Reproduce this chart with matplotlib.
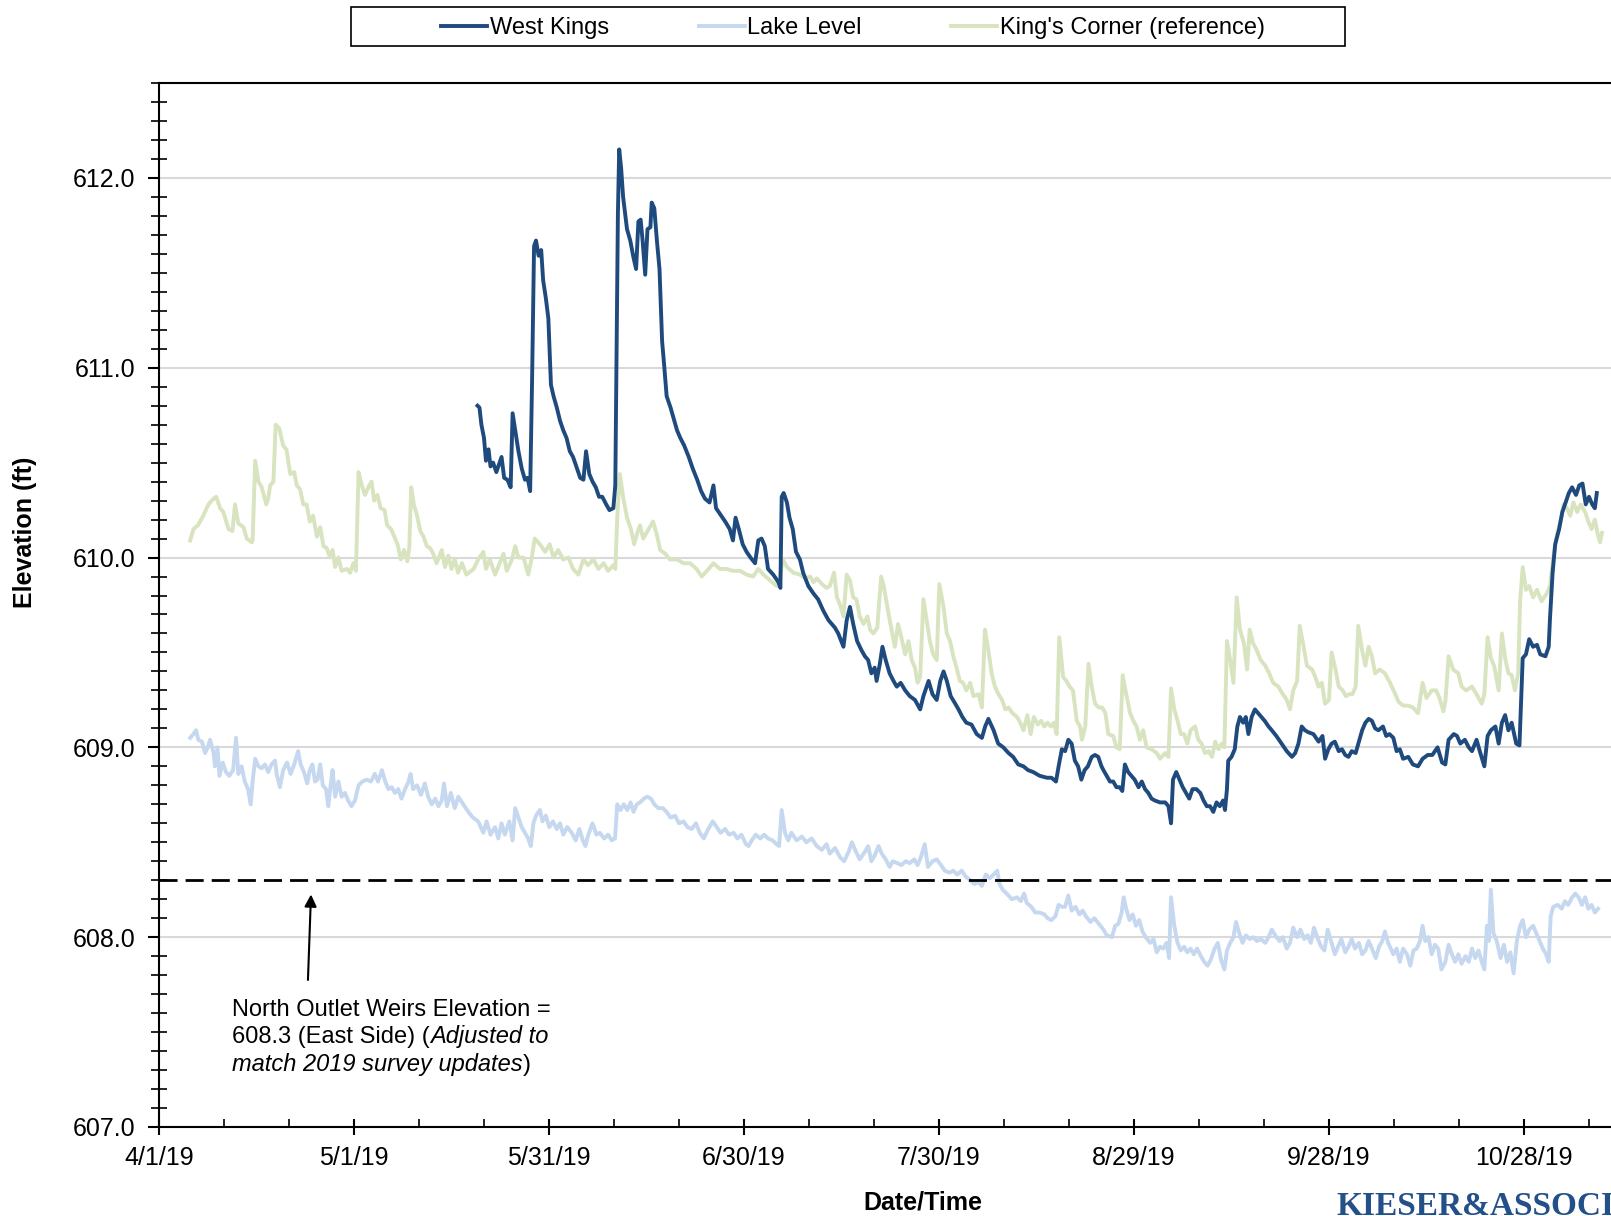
import numpy as np
import pandas as pd
import matplotlib
matplotlib.use("Agg")
from matplotlib import pyplot as plt
from matplotlib.lines import Line2D
from matplotlib.patches import Rectangle

plt.rcParams['font.family'] = ['Liberation Sans', 'DejaVu Sans']

start = pd.Timestamp('2019-04-01')

# King's Corner (reference) gauge: (days since 4/1/19, elevation ft)
kc_pts = [
    (4.8, 610.09), (5.3, 610.15), (6.0, 610.17), (6.8, 610.22), (7.6, 610.28), (8.4, 610.31), (8.8, 610.32),
    (9.4, 610.26), (9.9, 610.24), (10.7, 610.15), (11.3, 610.14), (11.7, 610.28), (12.2, 610.18), (13.0, 610.16),
    (13.5, 610.10), (14.3, 610.08), (14.4, 610.09), (14.8, 610.51), (15.3, 610.40), (15.8, 610.37), (16.5, 610.28),
    (16.8, 610.31), (17.1, 610.38), (17.6, 610.40), (17.95, 610.70), (18.5, 610.68), (19.1, 610.59), (19.6, 610.57),
    (20.2, 610.44), (20.8, 610.45), (21.2, 610.38), (21.7, 610.36), (22.2, 610.28), (22.7, 610.28), (23.2, 610.19),
    (23.7, 610.22), (24.3, 610.11), (24.8, 610.16), (25.3, 610.06), (25.8, 610.05), (26.3, 610.00), (26.7, 610.04),
    (27.1, 609.95), (27.6, 610.00), (28.1, 609.93), (28.9, 609.94), (29.4, 609.92), (29.9, 609.97), (30.3, 609.93),
    (30.7, 610.45), (31.2, 610.38), (31.7, 610.33), (32.2, 610.37), (32.7, 610.40), (33.1, 610.30), (33.6, 610.33),
    (34.1, 610.26), (34.7, 610.25), (35.1, 610.17), (35.7, 610.15), (36.2, 610.11), (36.7, 610.07), (37.2, 609.99),
    (37.7, 610.04), (38.2, 609.98), (38.5, 610.05), (38.8, 610.37), (39.2, 610.28), (39.7, 610.22), (40.2, 610.14),
    (40.7, 610.11), (41.2, 610.06), (41.7, 610.05), (42.2, 610.02), (42.7, 609.97), (43.5, 610.04), (44.0, 609.95),
    (44.5, 610.01), (45.0, 609.94), (45.5, 609.99), (46.0, 609.92), (46.6, 609.97), (47.3, 609.91), (48.4, 609.94),
    (49.1, 609.99), (49.9, 610.03), (50.3, 609.94), (50.9, 609.99), (51.7, 609.91), (52.4, 609.97), (53.0, 610.02),
    (53.5, 609.93), (54.3, 609.99), (54.8, 610.06), (55.3, 610.00), (56.1, 610.00), (56.8, 609.91), (57.3, 609.99),
    (57.8, 610.10), (58.6, 610.07), (59.4, 610.03), (60.1, 610.07), (60.7, 610.00), (61.4, 610.04), (62.2, 609.99),
    (63.0, 610.00), (63.7, 609.94), (64.5, 609.91), (65.3, 609.99), (66.0, 609.96), (66.8, 609.99), (67.6, 609.94),
    (68.4, 609.97), (69.1, 609.93), (69.9, 609.96), (70.2, 609.94), (70.5, 610.21), (70.9, 610.44), (71.4, 610.32),
    (72.0, 610.21), (72.6, 610.15), (73.1, 610.07), (73.5, 610.12), (74.0, 610.17), (74.5, 610.10), (75.0, 610.13),
    (75.5, 610.16), (76.0, 610.19), (76.6, 610.12), (77.1, 610.04), (77.9, 610.02), (78.6, 609.99), (79.7, 609.99),
    (80.7, 609.97), (81.7, 609.97), (82.7, 609.94), (83.5, 609.90), (84.3, 609.93), (85.3, 609.97), (86.3, 609.94),
    (87.3, 609.94), (88.3, 609.93), (89.4, 609.93), (90.4, 609.91), (91.4, 609.90), (92.2, 609.94), (93.0, 609.91),
    (94.0, 609.88), (95.0, 609.85), (95.5, 609.90), (96.0, 609.99), (96.6, 609.95), (97.6, 609.92), (98.6, 609.91),
    (99.4, 609.89), (100.2, 609.90), (100.7, 609.87), (101.2, 609.89), (102.0, 609.86), (102.7, 609.84),
    (103.2, 609.85), (103.85, 609.92), (104.3, 609.79), (104.8, 609.75), (105.3, 609.69), (105.8, 609.91),
    (106.3, 609.88), (106.8, 609.79), (107.3, 609.78), (107.8, 609.69), (108.4, 609.65), (109.0, 609.69),
    (109.4, 609.62), (109.9, 609.60), (110.5, 609.63), (111.1, 609.90), (111.5, 609.85), (112.2, 609.71),
    (112.7, 609.62), (113.2, 609.53), (113.7, 609.65), (114.2, 609.58), (114.8, 609.49), (115.3, 609.56),
    (115.8, 609.46), (116.3, 609.42), (116.7, 609.34), (117.1, 609.37), (117.6, 609.78), (118.1, 609.67),
    (118.6, 609.56), (119.1, 609.49), (119.65, 609.46), (120.05, 609.86), (120.7, 609.74), (121.2, 609.60),
    (121.7, 609.56), (122.2, 609.48), (122.7, 609.42), (123.2, 609.35), (123.7, 609.34), (124.2, 609.30),
    (124.8, 609.34), (125.3, 609.27), (126.1, 609.28), (126.6, 609.21), (127.07, 609.62), (127.6, 609.51),
    (128.1, 609.39), (128.6, 609.32), (129.15, 609.28), (129.7, 609.25), (130.2, 609.20), (130.7, 609.21),
    (131.3, 609.18), (132.0, 609.16), (132.5, 609.13), (133.0, 609.09), (133.6, 609.17), (134.1, 609.07),
    (134.6, 609.16), (135.2, 609.12), (135.7, 609.14), (136.2, 609.11), (136.7, 609.13), (137.2, 609.11),
    (137.7, 609.13), (138.1, 609.07), (138.5, 609.58), (139.1, 609.37), (139.6, 609.35), (140.1, 609.32),
    (140.6, 609.30), (141.2, 609.14), (141.7, 609.11), (142.0, 609.04), (142.5, 609.11), (143.0, 609.44),
    (143.5, 609.32), (144.0, 609.23), (144.6, 609.21), (145.1, 609.21), (145.6, 609.18), (146.05, 609.07),
    (146.8, 609.06), (147.3, 609.00), (147.8, 608.99), (148.26, 609.38), (148.8, 609.28), (149.4, 609.18),
    (149.9, 609.14), (150.4, 609.11), (150.9, 609.04), (151.4, 609.09), (151.95, 609.00), (152.7, 608.99),
    (153.5, 608.97), (154.0, 608.94), (154.8, 608.97), (155.3, 608.95), (155.7, 609.31), (156.2, 609.20),
    (156.7, 609.14), (157.2, 609.07), (157.7, 609.07), (158.2, 609.02), (158.7, 609.09), (159.4, 609.11),
    (159.9, 609.04), (160.4, 609.02), (160.9, 608.97), (161.5, 608.98), (162.0, 608.95), (162.5, 609.03),
    (163.0, 608.99), (163.5, 609.02), (163.9, 609.00), (164.3, 609.56), (164.8, 609.46), (165.3, 609.34),
    (165.8, 609.79), (166.3, 609.62), (166.9, 609.55), (167.4, 609.41), (167.8, 609.62), (168.3, 609.55),
    (168.9, 609.51), (169.5, 609.46), (170.2, 609.43), (170.8, 609.39), (171.4, 609.34), (172.2, 609.32),
    (172.9, 609.28), (173.5, 609.25), (174.0, 609.20), (174.5, 609.30), (175.1, 609.35), (175.5, 609.64),
    (176.1, 609.53), (176.6, 609.43), (177.4, 609.41), (177.9, 609.37), (178.4, 609.32), (178.9, 609.34),
    (179.4, 609.23), (180.0, 609.25), (180.4, 609.50), (181.0, 609.41), (181.5, 609.32), (182.1, 609.30),
    (182.6, 609.27), (183.1, 609.28), (183.6, 609.28), (184.1, 609.32), (184.5, 609.64), (185.1, 609.51),
    (185.6, 609.43), (186.1, 609.53), (186.6, 609.48), (187.1, 609.39), (187.8, 609.41), (188.6, 609.39),
    (189.4, 609.34), (190.2, 609.28), (190.7, 609.24), (191.4, 609.22), (192.2, 609.22), (192.9, 609.21),
    (193.7, 609.18), (194.4, 609.34), (195.0, 609.26), (195.8, 609.30), (196.5, 609.30), (197.0, 609.26),
    (197.6, 609.19), (197.9, 609.24), (198.4, 609.48), (199.1, 609.41), (199.9, 609.39), (200.4, 609.32),
    (201.1, 609.30), (202.0, 609.32), (202.7, 609.28), (203.5, 609.23), (203.9, 609.28), (204.4, 609.58),
    (204.9, 609.47), (205.4, 609.43), (206.1, 609.30), (206.6, 609.60), (207.1, 609.47), (207.6, 609.39),
    (208.1, 609.38), (208.6, 609.30), (209.1, 609.39), (209.4, 609.77), (209.8, 609.95), (210.3, 609.83),
    (210.8, 609.85), (211.4, 609.79), (212.0, 609.83), (212.7, 609.77), (213.5, 609.81), (214.0, 609.85),
    (214.5, 610.00), (215.0, 610.11), (215.6, 610.19), (216.1, 610.28), (216.6, 610.26), (217.1, 610.22),
    (217.6, 610.29), (218.2, 610.24), (218.7, 610.28), (219.4, 610.24), (219.9, 610.19), (220.4, 610.15),
    (220.9, 610.20), (221.3, 610.13), (221.7, 610.08), (222.0, 610.13),
]

# West Kings gauge
wk_pts = [
    (49.0, 610.80), (49.3, 610.79), (49.6, 610.70), (50.0, 610.63), (50.3, 610.51), (50.7, 610.57), (51.0, 610.48),
    (51.4, 610.50), (51.9, 610.45), (52.4, 610.50), (52.7, 610.53), (53.1, 610.42), (53.6, 610.41), (54.1, 610.37),
    (54.4, 610.76), (54.8, 610.67), (55.3, 610.56), (55.8, 610.47), (56.3, 610.41), (56.7, 610.42), (57.1, 610.35),
    (57.4, 610.94), (57.7, 611.64), (58.0, 611.67), (58.4, 611.59), (58.8, 611.62), (59.1, 611.46), (59.5, 611.37),
    (59.9, 611.26), (60.3, 610.91), (60.7, 610.85), (61.2, 610.79), (61.7, 610.72), (62.2, 610.67), (62.7, 610.63),
    (63.2, 610.56), (63.7, 610.53), (64.3, 610.47), (64.8, 610.42), (65.3, 610.41), (65.7, 610.56), (66.2, 610.44),
    (66.7, 610.40), (67.2, 610.37), (67.7, 610.32), (68.2, 610.32), (68.8, 610.28), (69.3, 610.25), (69.9, 610.26),
    (70.2, 610.38), (70.4, 611.08), (70.6, 611.81), (70.8, 612.15), (71.1, 612.05), (71.4, 611.90), (72.0, 611.73),
    (72.5, 611.67), (73.0, 611.58), (73.4, 611.52), (73.75, 611.77), (74.1, 611.78), (74.4, 611.67), (74.8, 611.49),
    (75.15, 611.73), (75.6, 611.74), (75.8, 611.87), (76.2, 611.84), (76.6, 611.67), (77.0, 611.52), (77.4, 611.14),
    (77.7, 611.02), (78.1, 610.85), (78.7, 610.79), (79.2, 610.73), (79.7, 610.67), (80.2, 610.63), (80.8, 610.59),
    (81.5, 610.53), (82.1, 610.47), (82.8, 610.41), (83.4, 610.35), (84.0, 610.31), (84.7, 610.29), (85.3, 610.38),
    (85.7, 610.26), (86.3, 610.23), (87.1, 610.19), (87.8, 610.15), (88.3, 610.09), (88.7, 610.21), (89.2, 610.15),
    (89.8, 610.07), (90.4, 610.03), (91.0, 610.00), (91.7, 609.97), (92.2, 610.09), (92.7, 610.10), (93.2, 610.06),
    (93.7, 609.94), (94.5, 609.91), (95.3, 609.87), (95.6, 609.84), (95.8, 610.32), (96.1, 610.34), (96.6, 610.29),
    (97.0, 610.21), (97.5, 610.15), (98.0, 610.03), (98.6, 609.99), (99.1, 609.92), (99.9, 609.85), (100.7, 609.81),
    (101.4, 609.78), (102.2, 609.72), (103.0, 609.67), (103.5, 609.65), (104.0, 609.63), (104.5, 609.60),
    (105.3, 609.53), (105.8, 609.67), (106.3, 609.74), (106.8, 609.65), (107.4, 609.56), (108.1, 609.51),
    (108.6, 609.48), (109.1, 609.46), (109.6, 609.39), (110.1, 609.42), (110.4, 609.35), (110.9, 609.44),
    (111.3, 609.53), (111.8, 609.46), (112.4, 609.39), (113.0, 609.35), (113.5, 609.32), (114.1, 609.34),
    (114.8, 609.30), (115.5, 609.27), (116.3, 609.25), (117.1, 609.20), (117.6, 609.27), (118.4, 609.35),
    (119.0, 609.28), (119.65, 609.25), (120.2, 609.35), (120.7, 609.40), (121.2, 609.35), (121.8, 609.27),
    (122.5, 609.23), (123.0, 609.20), (123.6, 609.16), (124.2, 609.13), (125.0, 609.12), (125.8, 609.07),
    (126.6, 609.05), (127.1, 609.11), (127.6, 609.15), (128.4, 609.09), (129.1, 609.02), (129.9, 609.00),
    (130.7, 608.97), (131.4, 608.95), (132.2, 608.91), (133.0, 608.90), (133.7, 608.88), (134.5, 608.87),
    (135.5, 608.85), (136.6, 608.84), (137.3, 608.84), (138.0, 608.82), (138.4, 608.90), (138.9, 608.99),
    (139.4, 608.98), (139.9, 609.04), (140.4, 609.02), (140.9, 608.93), (141.4, 608.90), (141.9, 608.83),
    (142.4, 608.88), (142.9, 608.90), (143.5, 608.95), (144.0, 608.96), (144.5, 608.95), (145.0, 608.90),
    (145.3, 608.88), (145.8, 608.85), (146.3, 608.82), (146.8, 608.82), (147.3, 608.79), (147.8, 608.79),
    (148.2, 608.77), (148.6, 608.91), (149.1, 608.87), (149.6, 608.85), (150.1, 608.83), (150.7, 608.79),
    (151.2, 608.82), (151.7, 608.78), (152.2, 608.76), (152.7, 608.73), (153.2, 608.72), (154.0, 608.71),
    (154.8, 608.71), (155.3, 608.69), (155.7, 608.60), (156.0, 608.83), (156.5, 608.87), (157.0, 608.83),
    (157.5, 608.79), (158.0, 608.76), (158.5, 608.73), (159.0, 608.78), (159.6, 608.78), (160.2, 608.76),
    (160.7, 608.72), (161.2, 608.69), (161.7, 608.69), (162.2, 608.66), (162.7, 608.71), (163.2, 608.69),
    (163.7, 608.72), (164.0, 608.67), (164.3, 608.78), (164.5, 608.93), (165.0, 608.95), (165.5, 608.99),
    (165.9, 609.11), (166.3, 609.16), (166.8, 609.13), (167.2, 609.16), (167.6, 609.07), (168.1, 609.16),
    (168.6, 609.20), (169.1, 609.18), (169.6, 609.16), (170.1, 609.14), (170.7, 609.11), (171.2, 609.09),
    (171.9, 609.06), (172.7, 609.02), (173.5, 608.98), (174.3, 608.95), (174.8, 608.97), (175.3, 609.02),
    (175.8, 609.11), (176.3, 609.09), (176.8, 609.08), (177.6, 609.07), (178.4, 609.03), (179.0, 609.06),
    (179.4, 608.94), (179.9, 608.99), (180.4, 609.02), (180.9, 609.03), (181.5, 608.98), (182.0, 608.99),
    (182.5, 608.96), (183.0, 608.95), (183.5, 608.98), (184.1, 608.97), (184.6, 609.03), (185.1, 609.09),
    (185.6, 609.13), (186.1, 609.15), (186.6, 609.14), (187.1, 609.10), (187.6, 609.09), (188.3, 609.11),
    (188.8, 609.06), (189.3, 609.07), (189.9, 609.05), (190.4, 608.98), (190.9, 608.99), (191.4, 608.94),
    (192.2, 608.95), (192.9, 608.91), (193.7, 608.90), (194.4, 608.94), (195.2, 608.96), (195.9, 608.96),
    (196.7, 609.00), (197.4, 608.92), (197.9, 608.91), (198.4, 609.04), (199.2, 609.07), (199.7, 609.06),
    (200.2, 609.02), (200.9, 609.04), (201.5, 609.00), (202.0, 608.98), (202.7, 609.04), (203.2, 608.98),
    (203.9, 608.90), (204.4, 609.06), (204.9, 609.09), (205.6, 609.11), (206.1, 609.02), (206.6, 609.13),
    (207.1, 609.17), (207.6, 609.09), (208.1, 609.13), (208.8, 609.02), (209.3, 609.01), (209.8, 609.47),
    (210.3, 609.49), (210.8, 609.57), (211.4, 609.53), (212.0, 609.54), (212.5, 609.49), (213.3, 609.48),
    (213.8, 609.53), (214.0, 609.68), (214.4, 609.92), (214.8, 610.07), (215.4, 610.15), (215.9, 610.24),
    (216.4, 610.29), (216.9, 610.34), (217.4, 610.37), (218.0, 610.33), (218.5, 610.38), (219.0, 610.39),
    (219.5, 610.28), (220.0, 610.32), (220.5, 610.28), (220.9, 610.26), (221.2, 610.34),
]

# Lake level
lake_pts = [
    (4.8, 609.05), (5.3, 609.07), (5.7, 609.09), (6.05, 609.04), (6.6, 609.03), (7.1, 608.97), (7.6, 609.01),
    (7.85, 609.04), (8.4, 608.97), (8.6, 608.90), (9.0, 609.00), (9.3, 608.85), (9.8, 608.92), (10.3, 608.87),
    (10.8, 608.85), (11.4, 608.88), (11.85, 609.05), (12.2, 608.86), (12.7, 608.90), (13.2, 608.82), (13.7, 608.78),
    (14.1, 608.70), (14.4, 608.82), (14.8, 608.94), (15.3, 608.90), (15.8, 608.89), (16.3, 608.91), (16.8, 608.87),
    (17.3, 608.91), (17.85, 608.93), (18.1, 608.86), (18.6, 608.79), (19.1, 608.88), (19.7, 608.92), (20.25, 608.86),
    (20.8, 608.91), (21.4, 608.98), (21.8, 608.91), (22.3, 608.87), (22.8, 608.81), (23.2, 608.88), (23.6, 608.91),
    (24.0, 608.82), (24.4, 608.83), (24.8, 608.91), (25.2, 608.80), (25.7, 608.78), (26.05, 608.69), (26.4, 608.80),
    (26.7, 608.88), (27.1, 608.74), (27.6, 608.82), (28.1, 608.74), (28.6, 608.76), (29.1, 608.72), (29.6, 608.69),
    (30.15, 608.72), (30.7, 608.80), (31.3, 608.82), (31.95, 608.83), (32.6, 608.82), (33.2, 608.86), (33.7, 608.82),
    (34.3, 608.88), (34.8, 608.82), (35.3, 608.78), (35.8, 608.79), (36.3, 608.76), (36.8, 608.78), (37.3, 608.73),
    (37.85, 608.78), (38.4, 608.82), (38.7, 608.86), (39.1, 608.78), (39.7, 608.80), (40.3, 608.75), (40.9, 608.81),
    (41.4, 608.74), (41.95, 608.70), (42.5, 608.73), (43.0, 608.69), (43.5, 608.72), (43.85, 608.81), (44.3, 608.69),
    (44.9, 608.76), (45.5, 608.68), (46.05, 608.74), (46.8, 608.70), (47.6, 608.66), (48.3, 608.63), (49.1, 608.61),
    (49.9, 608.55), (50.4, 608.61), (51.0, 608.54), (51.7, 608.58), (52.2, 608.52), (52.7, 608.60), (53.2, 608.54),
    (53.9, 608.61), (54.4, 608.51), (54.8, 608.68), (55.3, 608.63), (55.8, 608.58), (56.3, 608.55), (56.8, 608.52),
    (57.2, 608.48), (57.6, 608.60), (58.0, 608.64), (58.6, 608.67), (59.0, 608.61), (59.5, 608.64), (60.05, 608.58),
    (60.6, 608.61), (61.2, 608.57), (61.7, 608.60), (62.2, 608.54), (62.8, 608.58), (63.5, 608.55), (64.1, 608.51),
    (64.66, 608.57), (65.2, 608.51), (65.6, 608.48), (66.05, 608.54), (66.7, 608.60), (67.3, 608.54), (67.8, 608.55),
    (68.5, 608.52), (69.1, 608.54), (69.65, 608.51), (70.15, 608.52), (70.5, 608.70), (71.0, 608.67), (71.5, 608.70),
    (72.05, 608.67), (72.56, 608.71), (73.0, 608.66), (73.5, 608.70), (74.0, 608.71), (74.6, 608.73), (75.1, 608.74),
    (75.7, 608.73), (76.2, 608.70), (76.8, 608.68), (77.5, 608.68), (78.1, 608.66), (78.7, 608.63), (79.4, 608.64),
    (80.0, 608.60), (80.7, 608.61), (81.3, 608.58), (81.95, 608.57), (82.6, 608.60), (83.2, 608.55), (83.8, 608.52),
    (84.5, 608.57), (85.2, 608.61), (85.8, 608.58), (86.4, 608.55), (87.1, 608.57), (87.7, 608.54), (88.4, 608.55),
    (89.0, 608.52), (89.6, 608.54), (90.3, 608.49), (90.7, 608.48), (91.2, 608.51), (91.8, 608.54), (92.5, 608.52),
    (93.1, 608.54), (93.7, 608.52), (94.4, 608.51), (95.0, 608.49), (95.4, 608.48), (95.8, 608.67), (96.3, 608.55),
    (96.8, 608.51), (97.3, 608.55), (98.1, 608.51), (98.9, 608.53), (99.6, 608.50), (100.4, 608.52), (101.2, 608.48),
    (101.97, 608.46), (102.7, 608.49), (103.2, 608.44), (104.0, 608.47), (104.8, 608.42), (105.4, 608.40),
    (106.1, 608.45), (106.6, 608.50), (107.1, 608.46), (107.8, 608.41), (108.6, 608.45), (109.1, 608.48),
    (109.6, 608.40), (110.1, 608.43), (110.7, 608.48), (111.2, 608.44), (111.8, 608.41), (112.4, 608.37),
    (112.9, 608.40), (113.6, 608.39), (114.2, 608.38), (114.9, 608.40), (115.5, 608.39), (116.2, 608.41),
    (116.7, 608.38), (117.2, 608.42), (117.8, 608.49), (118.3, 608.37), (119.0, 608.40), (119.65, 608.41),
    (120.3, 608.38), (120.9, 608.35), (121.6, 608.34), (122.2, 608.35), (122.8, 608.33), (123.5, 608.35),
    (124.1, 608.32), (124.8, 608.30), (125.4, 608.28), (126.06, 608.29), (126.6, 608.27), (127.2, 608.33),
    (127.8, 608.31), (128.4, 608.33), (128.97, 608.35), (129.3, 608.28), (129.8, 608.25), (130.4, 608.23),
    (131.2, 608.20), (132.0, 608.21), (132.6, 608.19), (133.1, 608.23), (133.5, 608.18), (134.2, 608.16),
    (134.8, 608.13), (135.5, 608.13), (136.2, 608.12), (136.7, 608.10), (137.3, 608.09), (137.9, 608.11),
    (138.4, 608.17), (138.9, 608.16), (139.4, 608.16), (139.9, 608.22), (140.4, 608.14), (141.0, 608.16),
    (141.6, 608.12), (142.1, 608.14), (142.6, 608.11), (143.3, 608.08), (143.9, 608.10), (144.6, 608.07),
    (145.3, 608.04), (145.8, 608.01), (146.6, 608.00), (147.1, 608.06), (147.6, 608.07), (148.1, 608.13),
    (148.4, 608.21), (148.8, 608.15), (149.3, 608.09), (149.8, 608.12), (150.3, 608.06), (150.8, 608.09),
    (151.3, 608.03), (151.8, 608.00), (152.5, 607.97), (153.0, 607.99), (153.5, 607.92), (154.0, 607.95),
    (154.5, 607.94), (155.0, 607.97), (155.4, 607.89), (155.7, 608.21), (156.2, 608.06), (156.7, 607.97),
    (157.2, 607.93), (157.7, 607.95), (158.2, 607.92), (158.7, 607.94), (159.2, 607.91), (159.7, 607.94),
    (160.3, 607.90), (160.8, 607.87), (161.3, 607.85), (161.8, 607.88), (162.4, 607.94), (162.9, 607.97),
    (163.4, 607.88), (163.9, 607.83), (164.3, 607.93), (164.8, 607.97), (165.3, 608.00), (165.7, 608.08),
    (166.2, 608.02), (166.7, 607.97), (167.2, 608.01), (167.8, 607.99), (168.3, 608.00), (168.9, 607.98),
    (169.5, 607.99), (170.2, 607.97), (170.7, 608.00), (171.2, 608.04), (171.9, 608.00), (172.4, 607.98),
    (172.9, 608.00), (173.5, 607.94), (174.0, 607.97), (174.5, 608.05), (175.1, 608.00), (175.6, 608.04),
    (176.2, 607.99), (176.7, 608.01), (177.2, 607.97), (177.7, 608.05), (178.3, 607.99), (178.8, 607.95),
    (179.3, 607.93), (179.8, 608.04), (180.4, 607.97), (180.9, 607.91), (181.4, 607.95), (181.9, 607.99),
    (182.5, 607.92), (183.0, 607.95), (183.5, 607.99), (184.0, 607.94), (184.6, 607.97), (185.1, 607.91),
    (185.6, 607.93), (186.1, 607.98), (186.6, 607.94), (187.2, 607.89), (187.7, 607.95), (188.2, 607.98),
    (188.6, 608.03), (189.1, 607.97), (189.9, 607.91), (190.4, 607.94), (190.9, 607.87), (191.4, 607.94),
    (192.0, 607.91), (192.5, 607.85), (193.0, 607.93), (193.5, 607.94), (194.0, 607.98), (194.4, 608.06),
    (194.8, 607.98), (195.3, 608.00), (195.8, 607.91), (196.3, 607.96), (196.8, 607.94), (197.3, 607.83),
    (197.9, 607.87), (198.4, 607.96), (198.9, 607.91), (199.4, 607.87), (199.9, 607.91), (200.4, 607.86),
    (201.0, 607.90), (201.5, 607.87), (202.0, 607.94), (202.5, 607.89), (203.0, 607.93), (203.5, 607.87),
    (203.9, 607.83), (204.3, 608.06), (204.6, 607.98), (204.9, 608.25), (205.3, 608.02), (205.8, 607.98),
    (206.4, 607.89), (206.9, 607.96), (207.4, 607.87), (207.9, 607.92), (208.4, 607.81), (208.9, 607.98),
    (209.4, 608.06), (209.8, 608.09), (210.3, 608.00), (210.8, 608.04), (211.4, 608.06), (211.9, 608.02),
    (212.4, 607.98), (212.9, 607.94), (213.4, 607.91), (213.8, 607.87), (214.1, 608.11), (214.5, 608.16),
    (215.2, 608.17), (215.8, 608.15), (216.3, 608.19), (216.8, 608.17), (217.4, 608.21), (217.9, 608.23),
    (218.4, 608.21), (218.9, 608.17), (219.4, 608.21), (219.9, 608.15), (220.4, 608.17), (220.9, 608.13),
    (221.4, 608.15),
]

weir_elev = 608.3
x_tick_days = [0, 30, 60, 90, 120, 150, 180, 210]
x_tick_labels = ['4/1/19', '5/1/19', '5/31/19', '6/30/19', '7/30/19', '8/29/19', '9/28/19', '10/28/19']
y_ticks = [607, 608, 609, 610, 611, 612]

c_wk = '#1f4a7e'
c_lake = '#c5d8f0'
c_kc = '#d8e4bf'
lw = 2.8


def to_dates(days):
    return start + pd.to_timedelta(np.asarray(days), unit='D')


def split(pts):
    days = [d for d, _ in pts]
    vals = [v for _, v in pts]
    return to_dates(days), vals


W, H = 1611, 1216
fig = plt.figure(figsize=(W / 100, H / 100), dpi=100)
ax = fig.add_axes([159 / W, (H - 1127) / H, (W - 159) / W, (1127 - 83) / H])

ax.plot(*split(kc_pts), color=c_kc, lw=lw, zorder=2)
ax.plot(*split(lake_pts), color=c_lake, lw=lw, zorder=2)
ax.plot(*split(wk_pts), color=c_wk, lw=lw, zorder=3)

weir = ax.axhline(weir_elev, color='black', lw=2.0, zorder=4)
weir.set_dashes((6.5, 2.9))

ax.set_ylim(607, 612.5)
ax.set_xlim(start, start + pd.Timedelta(days=(W - 159) / 6.5))
ax.set_yticks(y_ticks)
ax.set_yticklabels(['%.1f' % v for v in y_ticks])
ax.set_yticks(np.arange(607, 612.51, 0.1), minor=True)
ax.set_xticks(to_dates(x_tick_days))
ax.set_xticklabels(x_tick_labels)
ax.set_xticks(to_dates(np.arange(0, 224, 10)), minor=True)

ax.grid(axis='y', which='major', color='#d9d9d9', lw=1.5, zorder=0)
ax.set_axisbelow(True)
for side in ['left', 'bottom', 'top']:
    ax.spines[side].set_linewidth(1.5)
ax.spines['right'].set_visible(False)

ax.tick_params(axis='y', which='major', direction='out', length=8, width=1.5, labelsize=18, pad=9)
ax.tick_params(axis='y', which='minor', direction='inout', length=11, width=1.2)
ax.tick_params(axis='x', which='major', direction='inout', length=12, width=1.5, labelsize=18, pad=8)
ax.tick_params(axis='x', which='minor', direction='in', length=6, width=1.2)

fig.text(25 / W, 1 - 532 / H, 'Elevation (ft)', rotation=90, ha='center', va='center',
         fontsize=18, fontweight='bold')
fig.text(923 / W, 1 - 1202 / H, 'Date/Time', ha='center', va='center',
         fontsize=18, fontweight='bold')

# weir note with arrow
ax.annotate('', xy=(start + pd.Timedelta(days=23.4), 608.24),
            xytext=(start + pd.Timedelta(days=22.9), 607.76),
            arrowprops=dict(arrowstyle='-|>', color='black', lw=1.5, mutation_scale=18))
note_fs = 17
fig.text(232 / W, 1 - 1010 / H, 'North Outlet Weirs Elevation =', fontsize=note_fs, va='center')
t2 = fig.text(232 / W, 1 - 1037 / H, '608.3 (East Side) (', fontsize=note_fs, va='center')
ax.annotate('Adjusted to', xy=(1, 0), xycoords=t2, va='bottom', fontsize=note_fs, style='italic')
t3 = fig.text(232 / W, 1 - 1064 / H, 'match 2019 survey updates', fontsize=note_fs, va='center',
              style='italic')
ax.annotate(')', xy=(1, 0), xycoords=t3, va='bottom', fontsize=note_fs)

# legend box across the top
fig.add_artist(Rectangle((351 / W, 1 - 46 / H), (1345 - 351) / W, 39 / H, transform=fig.transFigure,
                         fill=False, edgecolor='black', lw=1.2))
handles = [Line2D([], [], color=c_wk, lw=lw), Line2D([], [], color=c_lake, lw=lw),
           Line2D([], [], color=c_kc, lw=lw)]
fig.legend(handles, ['West Kings', 'Lake Level', "King's Corner (reference)"], loc='center',
           bbox_to_anchor=(853 / W, 1 - 28 / H), ncol=3, frameon=False, fontsize=17,
           handlelength=1.95, handletextpad=0.1, columnspacing=3.8, borderpad=0)

fig.text(1336 / W, 1 - 1215 / H, 'KIESER&ASSOCIATES', family='Liberation Serif', fontsize=24,
         fontweight='bold', color='#24508a', va='baseline', ha='left')

fig.savefig('out.png', dpi=100)
